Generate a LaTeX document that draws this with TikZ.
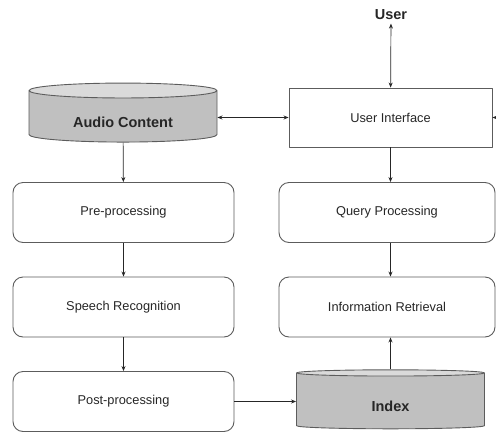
\documentclass[tikz,border=0pt]{standalone}
\usepackage{fontspec}
\setmainfont{Liberation Sans}
\usetikzlibrary{shapes.geometric,arrows.meta}
\definecolor{edgegray}{HTML}{5C5C5C}
\definecolor{bodygray}{HTML}{C0C0C0}
\definecolor{topgray}{HTML}{DADADA}
\definecolor{textgray}{HTML}{262626}
\newcommand{\storelabel}[1]{\raisebox{-10pt}[0pt][0pt]{#1}}
\tikzset{
  procbox/.style={draw=edgegray, line width=0.9pt, rounded corners=10pt, minimum width=221pt, minimum height=60pt, text=textgray},
  uibox/.style={draw=edgegray, line width=0.9pt, minimum width=203pt, minimum height=59pt, text=textgray},
  store/.style={cylinder, shape border rotate=90, aspect=0.14, draw=edgegray, line width=0.9pt,
    cylinder uses custom fill, cylinder body fill=bodygray, cylinder end fill=topgray,
    minimum width=188pt, minimum height=59pt, font=\fontsize{14.5}{16}\selectfont\bfseries, text=textgray},
  link/.style={draw=textgray, line width=0.7pt}
}
\begin{document}
\begin{tikzpicture}[x=1pt, y=-1pt, font=\fontsize{12.8}{15}\selectfont, line join=round, >={Stealth[length=5pt,width=4pt]}]
\useasboundingbox (0,0) rectangle (496,432);
% top row: user side
\node[font=\fontsize{14.5}{16}\selectfont\bfseries, text=textgray] (user) at (391,15) {User};
\node[uibox] (ui) at (390.5,117.5) {User Interface};
\node[store] (audio) at (123,117.5) {\storelabel{Audio Content}};
\coordinate (offpage) at (530,117.5);
% left column: indexing
\node[procbox] (pre) at (123.5,212.5) {Pre-processing};
\node[procbox] (asr) at (123.5,307) {Speech Recognition};
\node[procbox] (post) at (123.5,401.5) {Post-processing};
% right column: retrieval
\node[procbox, minimum width=216pt] (query) at (387,212.5) {Query Processing};
\node[procbox, minimum width=216pt] (retr) at (387,307) {Information Retrieval};
\node[store] (index) at (390.5,401.5) {\storelabel{Index}};
% connectors
\draw[link, <->] (user) -- (ui);
\draw[link, <->] (audio) -- (ui);
\draw[link, <->] (ui) -- (offpage);
\draw[link, ->] (audio) -- (pre);
\draw[link, ->] (pre) -- (asr);
\draw[link, ->] (asr) -- (post);
\draw[link, ->] (post) -- (index);
\draw[link, ->] (ui.south) -- (ui.south |- query.north);
\draw[link, ->] (ui.south |- query.south) -- (ui.south |- retr.north);
\draw[link, ->] (index.north) -- (index.north |- retr.south);
\end{tikzpicture}
\end{document}
